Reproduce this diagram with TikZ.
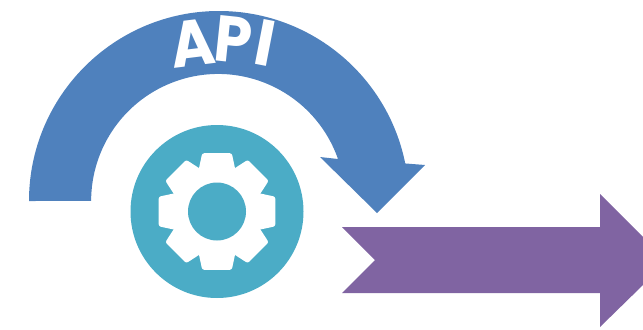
\documentclass[tikz,border=0pt]{standalone}
\usepackage{fontspec}
\setmainfont{Poppins}
\definecolor{arcblue}{HTML}{4F81BD}
\definecolor{gearteal}{HTML}{4BACC6}
\definecolor{arrowpurple}{HTML}{8064A2}
\tikzset{apiletter/.style={text=white, font=\fontsize{37}{37}\selectfont\bfseries, inner sep=0pt}}
\begin{document}
\begin{tikzpicture}[x=0.02cm, y=0.02cm]
\useasboundingbox (0,0) rectangle (643,329);
%%%%% Curved arrow %%%%%
\fill[arcblue] (29,128) arc (180:11.4:190) -- (425,164) -- (377,116) -- (320,172) -- (338,170) arc (19.3:180:127) -- cycle;
\node[apiletter, rotate=7, xscale=0.92] (letterA) at (193,286) {A};
\node[apiletter, rotate=-6, xscale=0.92] (letterP) at (233,289) {P};
\node[apiletter, rotate=-11] (letterI) at (265,286) {I};
%%%%% Gear %%%%%
\fill[gearteal] (217,117.5) circle[radius=86.5];
\begin{scope}[shift={(217,117.5)}]
\fill[white] (0,0) circle[radius=47];
\foreach \a in {0,45,...,315}{
\fill[white, rotate=\a] (-18,43.3) [rounded corners=1.2pt] -- (-14.8,58.3) -- (14.8,58.3) [sharp corners] -- (18,43.3) -- cycle;
}
\fill[gearteal] (0,0) circle[radius=29];
\end{scope}
%%%%% Straight arrow %%%%%
\fill[arrowpurple] (342,102) -- (600,102) -- (600,135) -- (643,92) -- (643,44) -- (600,2) -- (600,36) -- (342,36) -- (375,69) -- cycle;
\end{tikzpicture}
\end{document}
